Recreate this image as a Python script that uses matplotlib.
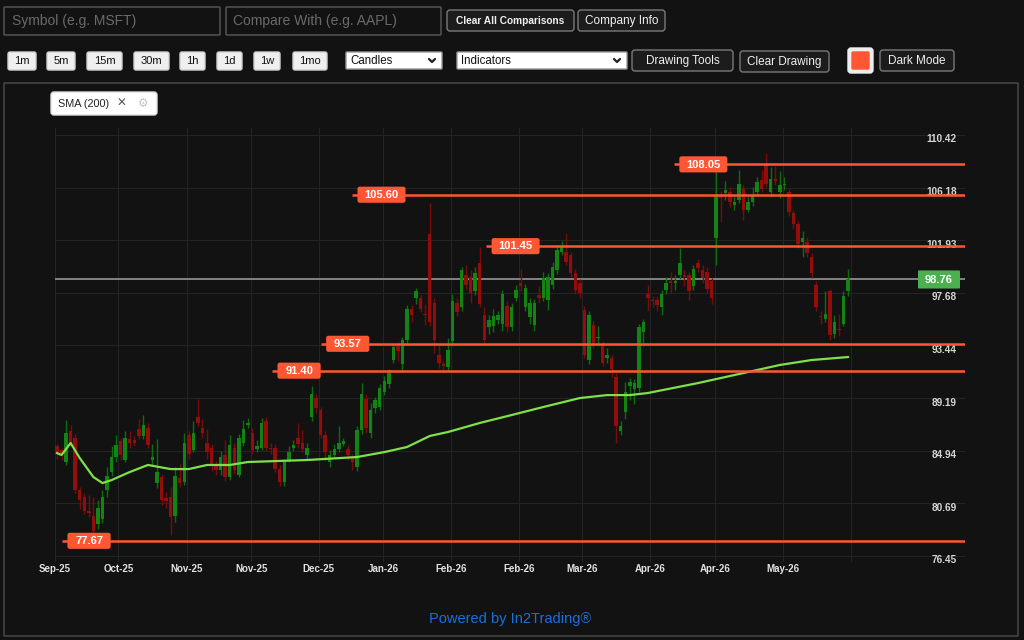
import numpy as np
import matplotlib
matplotlib.use('Agg')
import matplotlib.pyplot as plt
from matplotlib.patches import FancyBboxPatch
import matplotlib.transforms as mtransforms

plt.rcParams['font.family'] = ['Liberation Sans', 'DejaVu Sans']

# --- daily candles (Sep-25 .. May-26) ---
opens = [85.3, 85.0, 84.0, 86.5, 86.0, 81.8, 81.2, 80.1, 79.7, 79.0,
         79.4, 81.8, 83.2, 84.4, 85.7, 84.2, 85.9, 85.8, 86.7, 86.1,
         86.8, 84.2, 82.3, 82.8, 81.1, 81.2, 79.7, 82.7, 82.4, 86.2,
         85.0, 87.7, 86.8, 85.6, 85.2, 83.8, 83.4, 84.6, 82.8, 85.2,
         83.0, 85.6, 87.0, 86.4, 85.1, 85.2, 87.3, 85.2, 85.2, 83.5,
         82.4, 84.2, 85.2, 86.0, 85.6, 84.6, 87.7, 89.2, 88.2, 86.2,
         84.0, 84.6, 85.1, 85.5, 85.1, 84.4, 83.6, 86.6, 89.1, 86.4,
         88.4, 88.5, 89.7, 90.3, 92.3, 93.4, 91.9, 93.9, 96.4, 97.3,
         97.3, 96.0, 102.4, 96.9, 92.7, 91.9, 91.7, 93.8, 96.9, 96.5,
         99.1, 99.0, 97.8, 100.1, 95.9, 94.9, 95.0, 95.5, 95.2, 96.6,
         94.9, 97.3, 98.5, 96.5, 95.7, 95.1, 97.5, 97.3, 97.1, 98.3,
         99.5, 101.0, 101.0, 100.7, 99.3, 98.5, 96.3, 92.3, 95.1, 94.0,
         93.5, 92.4, 92.4, 90.9, 86.5, 88.1, 90.2, 89.9, 90.0, 94.5,
         97.6, 97.1, 97.1, 96.5, 97.9, 98.6, 98.5, 99.1, 99.1, 99.1,
         98.2, 100.1, 99.5, 99.4, 98.6, 102.1, 105.6, 105.7, 105.8, 104.8,
         105.2, 106.1, 104.4, 105.0, 105.8, 106.8, 108.0, 105.8, 106.9, 105.8,
         106.4, 105.8, 104.1, 103.2, 101.8, 101.8, 100.6, 98.3, 95.8, 95.6,
         97.8, 94.4, 94.8, 95.2, 97.8]
closes = [84.7, 84.7, 86.4, 85.6, 81.8, 81.0, 80.1, 79.9, 78.5, 80.3,
          81.2, 82.9, 84.4, 85.4, 84.6, 86.0, 85.6, 85.6, 86.1, 87.0,
          85.4, 84.4, 83.2, 81.0, 80.9, 79.6, 82.9, 82.3, 85.6, 84.7,
          86.4, 87.2, 86.4, 84.8, 83.8, 83.4, 84.4, 82.8, 85.4, 83.4,
          86.0, 86.7, 87.2, 85.0, 85.3, 87.2, 85.2, 85.1, 83.5, 82.4,
          84.0, 84.8, 85.4, 85.5, 85.1, 85.2, 89.5, 88.4, 86.2, 84.8,
          84.6, 85.1, 85.6, 85.7, 84.6, 84.0, 86.6, 89.5, 86.8, 88.2,
          89.0, 90.0, 90.6, 91.2, 93.3, 93.0, 93.9, 96.4, 95.9, 97.8,
          96.4, 95.9, 95.3, 93.9, 92.0, 91.8, 93.1, 97.0, 96.1, 99.5,
          98.3, 97.7, 99.3, 96.8, 93.9, 95.5, 95.8, 95.9, 97.6, 94.9,
          96.5, 97.9, 98.2, 98.1, 96.9, 96.9, 97.3, 98.9, 99.0, 99.8,
          101.1, 101.4, 100.2, 99.3, 97.9, 97.7, 92.7, 95.9, 93.5, 94.1,
          92.0, 92.7, 91.5, 86.9, 86.9, 89.7, 90.5, 90.4, 94.9, 95.3,
          97.3, 97.0, 96.7, 97.6, 98.5, 98.5, 98.6, 100.1, 99.0, 97.8,
          99.6, 99.7, 98.9, 98.0, 97.3, 105.6, 105.3, 106.0, 105.0, 105.0,
          106.5, 104.4, 105.0, 105.6, 106.6, 106.1, 106.5, 106.9, 106.7, 106.4,
          106.5, 104.2, 103.2, 101.6, 102.1, 100.9, 99.3, 96.5, 95.7, 96.0,
          94.3, 95.3, 94.7, 97.4, 98.76]
highs = [85.5, 85.2, 87.4, 87.0, 86.3, 82.0, 81.5, 81.4, 81.2, 81.0,
         81.8, 83.6, 85.3, 86.2, 86.0, 86.5, 86.5, 86.1, 87.5, 87.8,
         87.2, 85.5, 85.9, 83.1, 81.6, 82.0, 83.6, 83.9, 86.4, 86.5,
         87.3, 89.1, 87.5, 86.7, 85.5, 84.1, 84.9, 85.8, 86.2, 85.6,
         86.3, 87.4, 87.6, 86.8, 85.8, 87.6, 87.7, 85.6, 85.5, 83.8,
         84.3, 85.3, 85.8, 87.2, 86.6, 85.6, 90.2, 89.5, 88.5, 86.5,
         85.0, 85.5, 86.9, 86.0, 85.4, 84.7, 86.9, 90.4, 89.5, 88.8,
         89.3, 90.3, 91.0, 91.5, 93.6, 93.7, 94.1, 96.7, 96.7, 98.1,
         97.6, 96.8, 104.9, 97.3, 93.5, 92.2, 94.0, 97.6, 97.3, 99.8,
         99.9, 99.5, 99.8, 101.4, 96.5, 95.9, 96.4, 96.2, 97.9, 97.0,
         96.9, 98.3, 99.6, 98.4, 97.3, 97.2, 98.2, 99.4, 99.3, 100.2,
         101.5, 101.9, 102.5, 101.0, 99.6, 98.8, 96.6, 96.2, 95.4, 95.0,
         93.8, 93.2, 92.7, 91.2, 87.3, 90.5, 90.8, 90.7, 95.2, 95.6,
         98.3, 97.4, 97.4, 97.9, 99.0, 99.4, 99.1, 101.3, 99.5, 99.4,
         99.9, 100.4, 99.9, 99.8, 98.9, 107.4, 105.9, 106.7, 106.2, 105.5,
         107.6, 106.4, 105.4, 106.2, 107.0, 107.6, 109.0, 107.8, 107.9, 107.5,
         107.0, 106.1, 104.4, 103.5, 102.7, 102.2, 100.9, 98.6, 96.2, 97.8,
         98.0, 95.9, 96.0, 97.8, 99.6]
lows = [84.3, 84.2, 83.8, 85.3, 81.5, 80.2, 79.8, 79.6, 78.1, 78.6,
        79.1, 81.2, 82.9, 84.0, 84.2, 84.0, 85.2, 85.3, 85.9, 85.9,
        85.2, 83.8, 81.9, 80.6, 80.3, 78.1, 79.2, 82.0, 82.2, 84.3,
        84.8, 86.9, 86.0, 84.3, 83.3, 83.0, 83.0, 82.5, 82.6, 83.1,
        82.8, 85.3, 86.8, 84.7, 84.8, 85.0, 84.9, 84.7, 83.2, 82.1,
        82.1, 84.0, 84.9, 85.2, 84.8, 84.2, 87.3, 88.0, 86.0, 84.1,
        83.6, 84.4, 84.8, 85.3, 84.2, 83.4, 83.3, 86.3, 86.4, 86.0,
        88.0, 88.2, 89.4, 90.0, 92.0, 92.2, 91.3, 93.6, 95.3, 96.8,
        96.1, 95.1, 95.0, 92.8, 91.6, 91.2, 91.4, 93.4, 95.8, 96.2,
        98.0, 96.9, 97.5, 96.5, 93.6, 94.4, 94.5, 95.2, 94.6, 94.5,
        94.6, 97.0, 97.8, 96.2, 95.2, 94.6, 96.9, 97.0, 96.3, 98.0,
        99.2, 100.7, 99.9, 99.0, 97.6, 97.3, 92.4, 91.9, 93.2, 93.5,
        91.8, 92.0, 90.9, 85.6, 86.2, 87.5, 89.0, 88.7, 89.7, 93.4,
        96.2, 96.5, 96.2, 95.9, 97.6, 97.7, 97.9, 98.8, 98.2, 97.1,
        97.9, 99.4, 98.5, 97.7, 96.8, 99.9, 103.4, 105.2, 104.6, 104.4,
        104.9, 103.6, 104.2, 104.7, 105.5, 105.8, 106.2, 105.4, 106.4, 105.3,
        106.0, 103.9, 102.8, 101.3, 100.6, 100.6, 98.9, 96.2, 95.2, 95.3,
        93.9, 94.0, 94.2, 95.0, 97.4]

# SMA(200) overlay, sampled at candle indices
sma_idx = [0, 1, 3, 5, 8, 10, 12, 16, 20, 25, 29, 33, 38, 42, 55, 66, 72, 77,
           82, 86, 93, 100, 107, 115, 121, 126, 130, 141, 152, 159, 166, 174]
sma_val = [84.75, 84.6, 85.56, 84.35, 82.82, 82.33, 82.57, 83.22, 83.79, 83.46,
           83.46, 83.79, 83.79, 84.03, 84.19, 84.43, 84.83, 85.24, 86.13, 86.45,
           87.18, 87.82, 88.47, 89.19, 89.43, 89.43, 89.6, 90.4, 91.29, 91.86,
           92.26, 92.5]

# drawn horizontal levels
levels = [108.05, 105.60, 101.45, 93.57, 91.40, 77.67]
last_price = 98.76

y_ticks = [110.42, 106.18, 101.93, 97.68, 93.44, 89.19, 84.94, 80.69, 76.45]
x_tick_pos = [-0.4, 13.5, 28.6, 42.7, 57.6, 71.7, 86.7, 101.6, 115.5, 130.4, 144.7, 159.7, 174.7]
x_tick_labels = ['Sep-25', 'Oct-25', 'Nov-25', 'Nov-25', 'Dec-25', 'Jan-26', 'Feb-26',
                 'Feb-26', 'Mar-26', 'Apr-26', 'Apr-26', 'May-26', '']

BG = '#121212'
ORANGE = '#ff5733'
GREEN = '#138313'
RED = '#940d0d'

fig = plt.figure(figsize=(10.24, 6.4), dpi=100, facecolor=BG)

# ---------- UI chrome (pixel coordinates) ----------
ui = fig.add_axes([0, 0, 1, 1])
ui.set_xlim(0, 1024)
ui.set_ylim(640, 0)
ui.axis('off')


def box(x0, y0, x1, y1, fc, ec, r=3, lw=1.0, z=1):
    ui.add_patch(FancyBboxPatch((x0, y0), x1 - x0, y1 - y0,
                                boxstyle=f'round,pad=0,rounding_size={r}',
                                fc=fc, ec=ec, lw=lw, zorder=z))


def button(x0, y0, x1, y1, label, dark=True, fs=8.5, weight='normal'):
    if dark:
        box(x0, y0, x1, y1, '#1c1c1c', '#7a7a7a', r=3)
        col = '#f0f0f0'
    else:
        box(x0, y0, x1, y1, '#efefef', '#d0d0d0', r=2)
        col = '#111111'
    ui.text((x0 + x1) / 2, (y0 + y1) / 2 + 0.5, label, color=col, fontsize=fs,
            fontweight=weight, ha='center', va='center', zorder=3)


def dropdown(x0, y0, x1, y1, label):
    box(x0, y0, x1, y1, '#ffffff', '#9a9a9a', r=1)
    ui.text(x0 + 4, (y0 + y1) / 2 + 0.5, label, color='#111111', fontsize=8.3,
            ha='left', va='center', zorder=3)
    cx, cy = x1 - 10, (y0 + y1) / 2
    ui.plot([cx - 3, cx, cx + 3], [cy - 1.5, cy + 1.5, cy - 1.5], color='#222222',
            lw=1.6, zorder=3, solid_capstyle='round')


# row 1
box(4, 7, 220, 35, BG, '#5a5a5a', r=1)
ui.text(12, 21.5, 'Symbol (e.g. MSFT)', color='#6a6a6a', fontsize=10, ha='left', va='center')
box(226, 7, 441, 35, BG, '#5a5a5a', r=1)
ui.text(233, 21.5, 'Compare With (e.g. AAPL)', color='#6a6a6a', fontsize=10, ha='left', va='center')
button(447, 10, 574, 31, 'Clear All Comparisons', fs=7.3, weight='bold')
button(578, 10, 665, 31, 'Company Info', fs=8.5)

# row 2
for (x0, x1), lab in zip([(8, 36), (47, 75), (87, 122), (134, 169), (180, 205),
                          (217, 242), (254, 280), (293, 327)],
                         ['1m', '5m', '15m', '30m', '1h', '1d', '1w', '1mo']):
    button(x0, 52, x1, 70, lab, dark=False, fs=8)
dropdown(346, 52, 442, 69, 'Candles')
dropdown(457, 52, 627, 69, 'Indicators')
button(632, 50, 733, 71, 'Drawing Tools', fs=8.5)
button(740, 51, 829, 72, 'Clear Drawing', fs=8.5)
box(848, 48, 873, 73, '#eeeeee', '#eeeeee', r=3)
box(852, 52, 869, 69, ORANGE, ORANGE, r=1)
button(880, 50, 954, 71, 'Dark Mode', fs=8.5)

# chart panel
box(4, 83, 1018, 636, 'none', '#4d4d4d', r=0, lw=1)

# indicator chip
box(51, 92, 157, 115, '#ffffff', '#dddddd', r=3)
ui.text(58, 104, 'SMA (200)', color='#222222', fontsize=7.8, ha='left', va='center')
ui.text(121, 103.5, '\u2715', color='#555555', fontsize=8.5, ha='center', va='center')
ui.text(143, 104, '\u2699', color='#c4c4c4', fontsize=8.5, ha='center', va='center')

ui.text(510, 619, 'Powered by In2Trading\u00ae', color='#1a6fdb', fontsize=10.5,
        ha='center', va='center')

# ---------- price chart ----------
ax = fig.add_axes([55 / 1024, (640 - 562) / 640, 910 / 1024, (562 - 128) / 640])
ax.set_facecolor(BG)
ax.set_xlim(-0.44, 199.74)
ax.set_ylim(75.96, 110.985)
for s in ax.spines.values():
    s.set_visible(False)

ax.set_yticks(y_ticks)
ax.set_xticks(x_tick_pos)
ax.set_xticklabels(x_tick_labels, color='#e2e2e2', fontsize=7, fontweight='bold')
ax.tick_params(axis='x', length=0, pad=1.5)
ax.tick_params(axis='y', length=0, labelleft=False)
ax.grid(True, color='#242424', lw=0.8)
ax.set_axisbelow(True)

ylab_tr = mtransforms.blended_transform_factory(ax.transAxes, ax.transData)
for v in y_ticks:
    ax.text(0.9912, v - 0.36, f'{v:.2f}', transform=ylab_tr, ha='right', va='center',
            color='#d6d6d6', fontsize=7.2, fontweight='bold', zorder=5)

o = np.array(opens)
c = np.array(closes)
h = np.array(highs)
l = np.array(lows)
idx = np.arange(len(o))
up = c >= o
body_col = np.where(up, GREEN, RED)
wick_col = np.where(up, '#0e6c0e', '#7a0b0b')

ax.axhline(last_price, color='#8c8c8c', lw=1.3, zorder=2)
ax.vlines(idx, l, h, colors=wick_col, lw=1, zorder=3)
ax.bar(idx, np.maximum(np.abs(c - o), 0.1), bottom=np.minimum(o, c), width=0.76,
       color=body_col, lw=0, zorder=4)

ax.plot(sma_idx, sma_val, color='#7fe04a', lw=1.6, zorder=5)

# horizontal levels with labels
level_start = [135.7, 64.9, 94.4, 58.0, 47.3, 1.1]
asp = 4.546 / 12.39
for val, x0 in zip(levels, level_start):
    ax.hlines(val, x0, 199.74, color=ORANGE, lw=1.8, zorder=6)
    txt = f'{val:.2f}'
    w = 10.56 if len(txt) > 5 else 9.5
    bx = x0 + 1.2
    ax.add_patch(FancyBboxPatch((bx, val - 0.65), w, 1.3,
                                boxstyle='round,pad=0,rounding_size=0.5',
                                mutation_aspect=asp, fc=ORANGE, ec='none', zorder=7))
    ax.text(bx + w / 2, val - 0.02, txt, color='white', fontsize=8, fontweight='bold',
            ha='center', va='center', zorder=8)

# last price tag
ax.add_patch(FancyBboxPatch((189.4, last_price - 0.73), 9.24, 1.46,
                            boxstyle='round,pad=0,rounding_size=0.2',
                            mutation_aspect=asp, fc='#4caf50', ec='none', zorder=7))
ax.text(189.4 + 4.62, last_price - 0.02, f'{last_price:.2f}', color='white', fontsize=8,
        fontweight='bold', ha='center', va='center', zorder=8)

fig.savefig('out.png', dpi=100, facecolor=BG)
